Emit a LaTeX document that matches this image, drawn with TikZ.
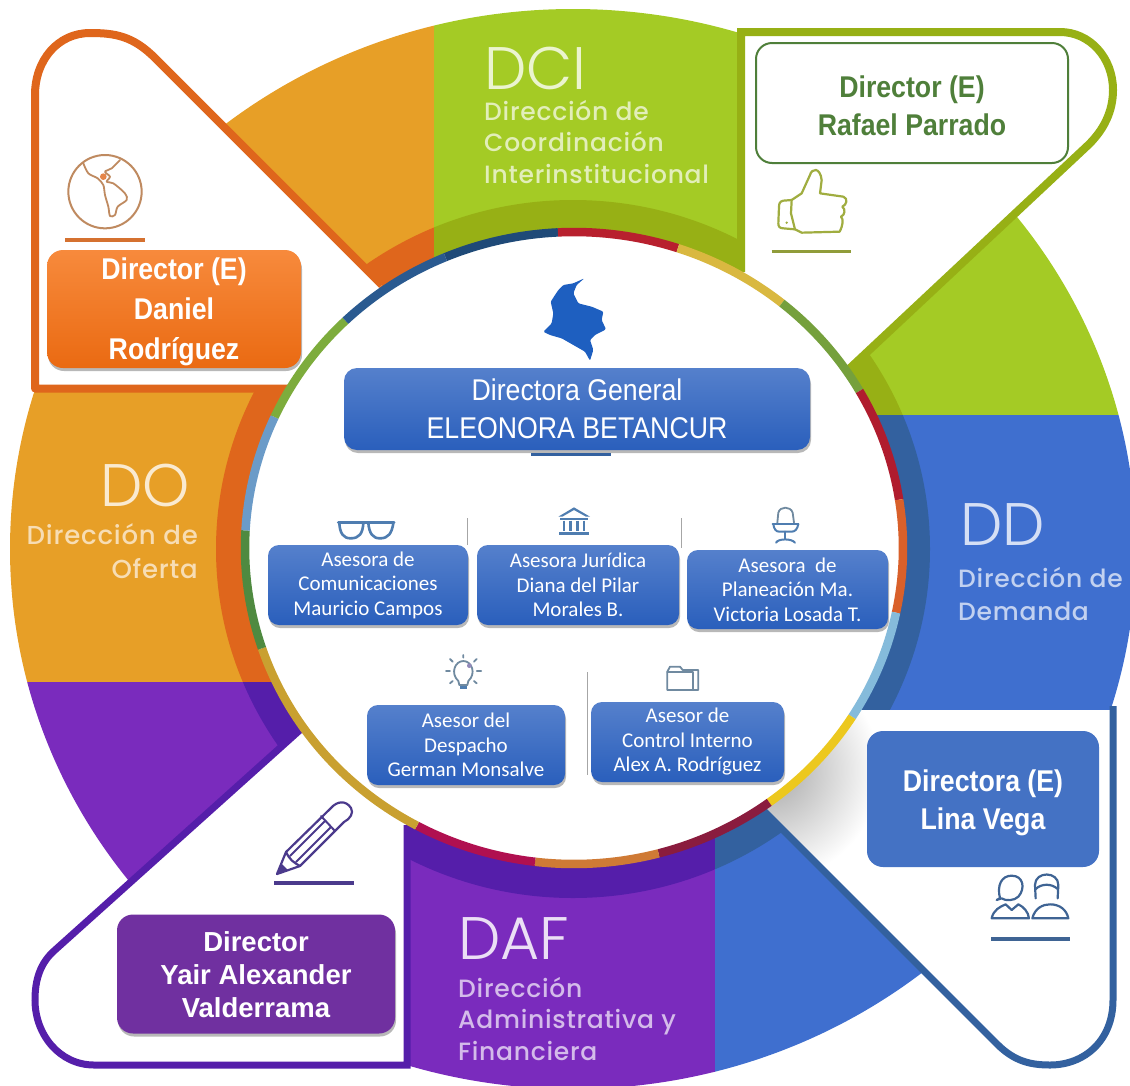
\documentclass[tikz,border=0pt]{standalone}
\usepackage{fontspec}
\usetikzlibrary{shadows}
\setmainfont{Liberation Sans}
\newfontfamily\cali{Carlito}
\newfontfamily\thinf{Poppins Light}
\newfontfamily\labf[LetterSpace=3]{Poppins Medium}
\newfontfamily\narr[FakeStretch=0.89]{Liberation Sans}
\definecolor{cOr}{HTML}{E79F27}\definecolor{cOrD}{HTML}{DF661C}
\definecolor{cGr}{HTML}{A4CB25}\definecolor{cGrD}{HTML}{97B015}
\definecolor{cBl}{HTML}{3F6FCF}\definecolor{cBlD}{HTML}{33619F}
\definecolor{cPu}{HTML}{7A2BBD}\definecolor{cPuD}{HTML}{551EAA}
\definecolor{cBoxT}{HTML}{5580CC}\definecolor{cBoxB}{HTML}{2A5FBC}
\definecolor{oBoxT}{HTML}{F78A3C}\definecolor{oBoxB}{HTML}{EA6A12}
\definecolor{gBox}{HTML}{4F7F3A}\definecolor{bBox}{HTML}{4472C4}\definecolor{pBox}{HTML}{7030A0}
\definecolor{icGlobe}{HTML}{BF8A60}\definecolor{icThumb}{HTML}{A0AD40}\definecolor{icPeople}{HTML}{3F6494}
\definecolor{icPencil}{HTML}{4B3A8C}\definecolor{icBlue}{HTML}{4F7DB0}\definecolor{icGrey}{HTML}{708AA0}
\definecolor{mapBlue}{HTML}{1E5FC0}
\tikzset{
 softshadow/.style={drop shadow={shadow xshift=1pt,shadow yshift=-3pt,opacity=.28,fill=black}},
 advisor/.style={rounded corners=11pt,top color=cBoxT,bottom color=cBoxB,softshadow,text=white,align=center,inner sep=0pt,font=\cali\fontsize{21}{24.5}\selectfont},
 head/.style={anchor=base west,inner sep=0pt,font=\thinf\fontsize{60}{60}\selectfont},
 sub/.style={anchor=base west,inner sep=0pt,font=\labf\fontsize{25}{25}\selectfont},
 chief/.style={rounded corners=16pt,inner sep=0pt},
 chieftext/.style={align=center,inner sep=0pt,font=\narr\bfseries\fontsize{30}{38}\selectfont},
 icon/.style={line width=#1,line join=round,line cap=round},
}
\begin{document}
\begin{tikzpicture}[x=1pt,y=-1pt]
\useasboundingbox (0,0) rectangle (1130,1085);
% outer disc
\begin{scope}
\clip (573,549) ellipse [x radius=563,y radius=540];
\fill[cOr] (0,0) rectangle (434,682);
\fill[cGr] (434,0) rectangle (1140,415);
\fill[cBl] (715,415) rectangle (1140,1090);
\fill[cPu] (0,682) rectangle (715,1090);
\end{scope}
% darker band
\begin{scope}
\clip (573,549) ellipse [x radius=357,y radius=349];
\fill[cOrD] (0,0) rectangle (434,682);
\fill[cGrD] (434,0) rectangle (1140,415);
\fill[cBlD] (715,415) rectangle (1140,1090);
\fill[cPuD] (0,682) rectangle (715,1090);
\end{scope}
% white callouts
\path[fill=white,draw=cOrD,line width=8pt,line join=round] (288,388.5) -- (35,388.5) -- (35,95) .. controls (35,60) and (58,33) .. (90,33) .. controls (115,33) and (133,36) .. (155,58) -- (382,285);
\path[fill=white,draw=cGrD,line width=8pt] (741,272) -- (741,32) -- (1060,32) .. controls (1090,32) and (1113,58) .. (1113,90) .. controls (1113,110) and (1105,130) .. (1085,148) -- (849,369);
\path[fill=white,draw=cPuD,line width=7pt] (407,825) -- (407,1065) -- (94,1065) .. controls (60,1065) and (35,1035) .. (35,1000) .. controls (35,980) and (40,963) .. (55,950) -- (300,730);
\fill[white] (857,710) -- (1113,710) -- (1113,1000) .. controls (1113,1040) and (1085,1065) .. (1050,1065) .. controls (1030,1065) and (1014,1061) .. (997,1044) -- (760,807) -- cycle;
\begin{scope}
\clip (857,710) -- (1113,710) -- (1113,1000) -- (997,1044) -- (760,807) -- cycle;
\shade[inner color=gray!70,outer color=white] (770,770) circle [radius=110];
\end{scope}
\draw[cBlD,line width=7pt] (1113,706) -- (1113,1000) .. controls (1113,1040) and (1085,1065) .. (1050,1065) .. controls (1030,1065) and (1014,1061) .. (997,1044) -- (760,807);
% central disc and ring
\fill[white] (574,548) ellipse [x radius=332,y radius=319];
\begin{scope}[shift={(574,548)},y=1pt]
\foreach \a/\b/\c in {113/92.8/1F4A78,92.8/71.6/B8202E,71.6/50.8/D9B840,50.8/29.8/75A03C,29.8/8.8/B01C2E,8.8/-11.8/D9602A,-11.8/-32.3/85BBDB,-32.3/-53.6/ECC81E,-53.6/-75.1/8A1C3E,-75.1/-96.8/CF7A35,-96.8/-118.5/B01050,-118.5/-161.5/C9A030,-161.5/-183.2/4F8A40,176.8/155.5/6B9BC8,155.5/134/7DAC3C,134/113/2A5A90}{
 \definecolor{segc}{HTML}{\c}
 \draw[segc,line width=8.5pt] (\a:329 and 316) arc [start angle=\a,end angle=\b,x radius=329,y radius=316];
}
\end{scope}
% headings
\node[head,text=white!78!cGr] (hdci) at (484,89) {DCI};
\node[sub,text=white!68!cGr] (dci1) at (484,120) {Dirección de};
\node[sub,text=white!68!cGr] (dci2) at (484,151) {Coordinación};
\node[sub,text=white!68!cGr] (dci3) at (484,183) {Interinstitucional};
\node[head,text=white!78!cOr] (hdo) at (100,506) {DO};
\node[sub,text=white!65!cOr,anchor=base east,font=\labf\fontsize{26}{26}\selectfont] (do1) at (198,544) {Dirección de};
\node[sub,text=white!65!cOr,anchor=base east,font=\labf\fontsize{26}{26}\selectfont] (do2) at (198,578) {Oferta};
\node[head,text=white!78!cBl] (hdd) at (960,545) {DD};
\node[sub,text=white!68!cBl] (dd1) at (958,587) {Dirección de};
\node[sub,text=white!68!cBl] (dd2) at (958,620) {Demanda};
\node[head,text=white!85!cPu] (hdaf) at (458,959) {DAF};
\node[sub,text=white!68!cPu] (daf1) at (458,997) {Dirección};
\node[sub,text=white!68!cPu] (daf2) at (458,1028) {Administrativa y};
\node[sub,text=white!68!cPu] (daf3) at (458,1060) {Financiera};
% director boxes
\node[chief,top color=oBoxT,bottom color=oBoxB,softshadow,minimum width=254pt,minimum height=118pt] (bo) at (174,309) {};
\node[chieftext,text=white,font=\narr\bfseries\fontsize{30}{40}\selectfont] (bot) at (174,312) {Director (E)\\Daniel\\Rodríguez};
\node[chief,fill=white,draw=gBox,line width=2pt,minimum width=312pt,minimum height=120pt] (bg) at (912,103) {};
\node[chieftext,text=gBox] (bgt) at (912,106) {Director (E)\\Rafael Parrado};
\node[chief,fill=bBox,minimum width=232pt,minimum height=136pt] (bb) at (983,799) {};
\node[chieftext,text=white] (bbt) at (983,803) {Directora (E)\\Lina Vega};
\node[chief,fill=pBox,softshadow,minimum width=278pt,minimum height=119pt] (bp) at (256,974) {};
\node[chieftext,text=white,font=\bfseries\fontsize{27.5}{33}\selectfont] (bpt) at (256,975) {Director\\Yair Alexander\\Valderrama};
% general director
\node[rounded corners=13pt,top color=cBoxT,bottom color=cBoxB,softshadow,text=white,align=center,inner sep=0pt,minimum width=466pt,minimum height=82pt,font=\narr\fontsize{30}{38}\selectfont] (gen) at (577,409) {Directora General\\ELEONORA BETANCUR};
\draw[cBlD,line width=3pt] (531,454) -- (611,454);
% advisers
\node[advisor,minimum width=200pt,minimum height=80pt] (a1) at (368,585) {Asesora de\\Comunicaciones\\Mauricio Campos};
\node[advisor,minimum width=202pt,minimum height=80pt] (a2) at (578,585) {Asesora Jurídica\\Diana del Pilar\\Morales B.};
\node[advisor,minimum width=201pt,minimum height=79pt] (a3) at (787.5,589.5) {Asesora\ \ de\\Planeación Ma.\\Victoria Losada T.};
\node[advisor,minimum width=198pt,minimum height=80pt] (a4) at (466,745) {Asesor del\\Despacho\\German Monsalve};
\node[advisor,minimum width=193pt,minimum height=80pt] (a5) at (687.5,742) {Asesor de\\Control Interno\\Alex A. Rodríguez};
% separators
\draw[gray!70,line width=1pt] (467,518) -- (467,545);
\draw[gray!70,line width=1pt] (681,518) -- (681,548);
\draw[gray!70,line width=1pt] (587,672) -- (587,775);
% map
\begin{scope}[shift={(530,270)},scale=1/3]
\fill[mapBlue,rounded corners=1.2pt] (163,25) -- (140,45) -- (130,70) -- (145,100) -- (185,110) -- (220,125) -- (215,150) -- (228,178) -- (195,195) -- (180,210) -- (190,240) -- (180,272) -- (165,245) -- (130,225) -- (95,205) -- (60,195) -- (40,185) -- (65,160) -- (70,130) -- (62,95) -- (85,60) -- (100,45) -- (130,40) -- cycle;
\end{scope}
% globe
\begin{scope}[shift={(55,150)},scale=1/3]
\draw[icGlobe,icon=2pt] (150,125) circle [radius=110];
\draw[icGlobe,icon=1.8pt] plot[smooth] coordinates {(85,40) (100,70) (128,85) (145,105) (150,135) (160,170) (165,198) (180,195) (188,170) (215,150) (210,130) (175,100) (155,95) (165,80) (150,65) (170,55) (195,30)};
\fill[cOrD!80] (145,80) circle [radius=10];
\draw[cOrD!70!icGlobe,line width=3.4pt] (30,270) -- (270,270);
\end{scope}
% thumb
\begin{scope}[shift={(765,160)},scale=1/3]
\draw[icThumb,icon=2.2pt] (80,120) -- (55,122) .. controls (45,124) and (42,130) .. (42,140) -- (40,190) .. controls (40,200) and (44,205) .. (55,205) -- (90,208);
\draw[icThumb,icon=2.2pt] (80,120) -- (110,100) -- (135,45) .. controls (140,25) and (165,20) .. (170,60) -- (165,100) -- (235,110) .. controls (250,115) and (245,135) .. (232,140) .. controls (242,148) and (240,165) .. (228,170) .. controls (236,178) and (234,195) .. (224,215) -- (110,218) -- (90,208) -- (78,160) -- cycle;
\fill[icThumb] (65,188) circle [radius=4];
\draw[icThumb!90!black,line width=3.4pt] (20,275) -- (258,275);
\end{scope}
% people
\begin{scope}[shift={(985,865)},scale=1/3]
\draw[icPeople,icon=2.2pt] (45,100) .. controls (35,60) and (50,32) .. (80,32) .. controls (115,32) and (122,70) .. (100,95) .. controls (88,108) and (60,108) .. (50,100) -- (35,105) -- cycle;
\draw[icPeople,icon=2.2pt] (20,160) .. controls (25,135) and (45,125) .. (62,118) -- (80,135) -- (100,118) .. controls (115,125) and (130,140) .. (132,160) -- cycle;
\draw[icPeople,icon=2.2pt] (152,100) -- (150,60) .. controls (150,18) and (220,18) .. (220,60) -- (218,100);
\draw[icPeople,icon=2.2pt] (152,72) .. controls (170,55) and (200,55) .. (218,72);
\draw[icPeople,icon=2.2pt] (142,160) .. controls (150,128) and (175,118) .. (195,118) .. controls (225,118) and (245,135) .. (250,160) -- cycle;
\draw[icPeople,line width=3.4pt] (18,222) -- (255,222);
\end{scope}
% pencil
\draw[icPencil,icon=2.2pt] (277,874) -- (286,852) -- (331,808) .. controls (337,801) and (346,800) .. (351,808) .. controls (354,813) and (350,819) .. (344,822) -- (300,866) -- cycle;
\draw[icPencil,icon=2.2pt] (286,852) .. controls (290,860) and (293,862) .. (300,866);
\draw[icPencil,icon=2pt] (290,856) -- (325,821) (296,862) -- (331,827);
\draw[icPencil,icon=2pt] (321,816) -- (335,831);
\fill[icPencil] (277,874) -- (281,863) -- (288,870) -- cycle;
\draw[icPencil,line width=3.4pt] (274,883) -- (354,883);
% glasses, temple, chair
\begin{scope}[shift={(320,500)},scale=1/3]
\draw[icBlue,icon=3pt] (55,68) -- (222,68);
\draw[icBlue,icon=2.6pt] (58,70) .. controls (60,100) and (70,115) .. (92,115) .. controls (118,115) and (128,100) .. (130,70);
\draw[icBlue,icon=2.6pt] (145,70) .. controls (148,100) and (158,115) .. (180,115) .. controls (205,115) and (215,100) .. (220,70);
\fill[icBlue] (715,50) -- (762,22) -- (810,50) -- (798,50) -- (762,30) -- (727,50) -- cycle;
\draw[icBlue,line width=2.4pt] (720,57) -- (805,57);
\draw[icBlue,line width=2.6pt] (732,62) -- (732,92) (752,62) -- (752,92) (772,62) -- (772,92) (792,62) -- (792,92);
\draw[icBlue,line width=3pt] (718,100) -- (808,100);
\draw[icGrey,icon=1.8pt] (1372,68) -- (1375,38) .. controls (1380,18) and (1412,18) .. (1418,38) -- (1422,68);
\draw[icBlue,icon=2pt] (1358,72) -- (1435,72);
\draw[icBlue,icon=2pt] (1360,72) .. controls (1362,88) and (1368,95) .. (1378,95) -- (1415,95) .. controls (1425,95) and (1432,88) .. (1435,72);
\draw[icBlue,icon=2pt] (1396,95) -- (1396,118);
\draw[icBlue,icon=2pt] (1368,128) .. controls (1375,115) and (1415,115) .. (1425,128);
\end{scope}
% bulb, folder
\begin{scope}[shift={(440,655)},scale=1/3]
\draw[icGrey,icon=1.8pt] (55,78) .. controls (30,55) and (45,18) .. (70,18) .. controls (95,18) and (110,55) .. (85,78) -- (82,90) -- (58,90) -- cycle;
\draw[icBlue,line width=3pt] (60,98) -- (80,98);
\fill[icPencil!60] (88,32) circle [radius=7];
\draw[icGrey,icon=1.8pt] (70,0) -- (70,8) (30,12) -- (38,20) (110,12) -- (102,20) (18,48) -- (30,48) (110,48) -- (124,48) (30,85) -- (38,78) (110,85) -- (102,78);
\draw[icGrey,icon=1.8pt] (682,50) -- (690,35) -- (720,35) -- (728,45) -- (775,45) -- (775,105) -- (682,105) -- cycle;
\draw[icGrey,icon=1.8pt] (682,50) -- (760,50) -- (760,105);
\end{scope}
\end{tikzpicture}
\end{document}
